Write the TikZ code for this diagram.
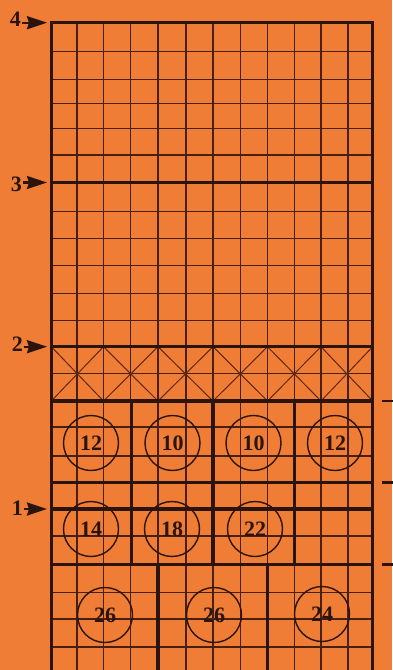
\documentclass[tikz,border=0pt]{standalone}
\usepackage{fontspec}
\setmainfont{Liberation Serif}
\usetikzlibrary{arrows.meta}
\definecolor{gridcolor0001}{RGB}{239,125,54}
\definecolor{gridcolor0002}{RGB}{42,20,12}
\definecolor{gridcolor0003}{RGB}{72,32,18}
\definecolor{gridcolor0004}{RGB}{95,40,20}

\begin{document}
\begin{tikzpicture}[yscale=-1
,gstyle0/.style={fill=gridcolor0001}
,gstyle1/.style={color=gridcolor0003,line width=1.1pt}
,gstyle2/.style={color=gridcolor0002,line width=3.2pt}
,gstyle3/.style={color=gridcolor0004,line width=1pt}
,gstyle4/.style={draw=gridcolor0002,line width=1.4pt,circle,minimum size=55pt,inner sep=0,text=gridcolor0002,font=\fontsize{22}{22}\selectfont\bfseries}
,gstyle5/.style={color=gridcolor0002,line width=2.4pt,shorten <=1pt,-{Stealth[length=20pt,width=13pt,inset=2pt]}}
,gstyle6/.style={anchor=east,inner sep=0,text=gridcolor0002,font=\fontsize{22}{22}\selectfont\bfseries}
,gstyle7/.style={color=gridcolor0002,line width=2.8pt}
]
\useasboundingbox (0pt,0pt) rectangle (392pt,670pt);
\fill[gstyle0] (0pt,0pt) rectangle (392pt,670pt);
\foreach \x in {77,103.5,130.5,158,186,213,240.5,267.5,294.5,321,348} \draw[gstyle1] (\x pt,22.7pt) -- (\x pt,670pt);
\foreach \y in {51.7,79.3,103.3,128.3,155,211.7,238.3,265.7,293.3,320.7,373.5,427,456,536,592.5,619,647} \draw[gstyle1] (51.3pt,\y pt) -- (372.7pt,\y pt);
\draw[gstyle3] (51.3pt,346.7pt) -- (103.5pt,401pt) -- (158pt,346.7pt) -- (213pt,401pt) -- (267.5pt,346.7pt) -- (321pt,401pt) -- (372.7pt,346.7pt);
\draw[gstyle3] (51.3pt,401pt) -- (103.5pt,346.7pt) -- (158pt,401pt) -- (213pt,346.7pt) -- (267.5pt,401pt) -- (321pt,346.7pt) -- (372.7pt,401pt);
\draw[gstyle2,line join=miter] (51.3pt,671pt) -- (51.3pt,22.7pt) -- (372.7pt,22.7pt) -- (372.7pt,671pt);
\foreach \y in {182.5,346.7,401,482.5,509,564.5} \draw[gstyle2] (51.3pt,\y pt) -- (372.7pt,\y pt);
\draw[gstyle2] (131.5pt,401pt) -- (131.5pt,564.5pt);
\draw[gstyle2] (213pt,401pt) -- (213pt,564.5pt);
\draw[gstyle2] (294.5pt,401pt) -- (294.5pt,564.5pt);
\draw[gstyle2] (158pt,564.5pt) -- (158pt,671pt);
\draw[gstyle2] (267.5pt,564.5pt) -- (267.5pt,671pt);
\draw[gstyle7] (382pt,401pt) -- (393pt,401pt);
\draw[gstyle7] (382pt,482.5pt) -- (393pt,482.5pt);
\draw[gstyle7] (382pt,564.5pt) -- (393pt,564.5pt);
\node[gstyle4] (c1) at (91pt,443pt) {12};
\node[gstyle4] (c2) at (172.5pt,443pt) {10};
\node[gstyle4] (c3) at (253.5pt,443pt) {10};
\node[gstyle4] (c4) at (335pt,443pt) {12};
\node[gstyle4] (c5) at (91pt,529pt) {14};
\node[gstyle4] (c6) at (172pt,529pt) {18};
\node[gstyle4] (c7) at (255pt,529pt) {22};
\node[gstyle4] (c8) at (105pt,615pt) {26};
\node[gstyle4] (c9) at (214pt,615pt) {26};
\node[gstyle4] (c10) at (322pt,614pt) {24};
\coordinate (tip4) at (47pt,22.7pt);
\coordinate (tip3) at (47pt,182.5pt);
\coordinate (tip2) at (47pt,346.7pt);
\coordinate (tip1) at (47pt,509pt);
\node[gstyle6] (lab4) at (21pt,19.5pt) {4};
\node[gstyle6] (lab3) at (22pt,184pt) {3};
\node[gstyle6] (lab2) at (23pt,344pt) {2};
\node[gstyle6] (lab1) at (23pt,508pt) {1};
\draw[gstyle5] (lab4.east |- tip4) -- (tip4);
\draw[gstyle5] (lab3.east |- tip3) -- (tip3);
\draw[gstyle5] (lab2.east |- tip2) -- (tip2);
\draw[gstyle5] (lab1.east |- tip1) -- (tip1);
\end{tikzpicture}
\end{document}
